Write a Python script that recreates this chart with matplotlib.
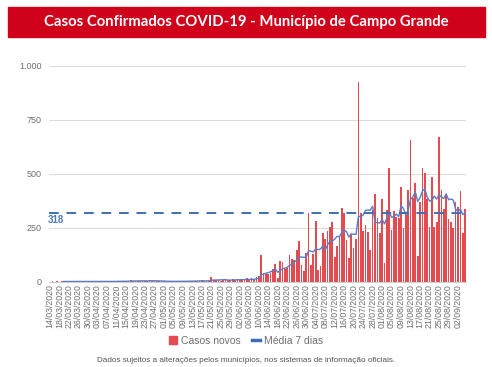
import numpy as np
import pandas as pd
import matplotlib
matplotlib.use('Agg')
import matplotlib.pyplot as plt
from matplotlib.patches import Rectangle
from matplotlib.lines import Line2D

# dados diarios (14/03/2020 ate 05/09/2020)
start_date = '2020-03-14'
cases_mar_may = [0, 2, 0, 1, 0, 3, 1, 0, 2, 1,
                 0, 1, 2, 0, 1, 3, 0, 1, 2, 1,
                 1, 0, 2, 1, 3, 2, 0, 1, 2, 4,
                 2, 3, 1, 2, 8, 3, 2, 4, 3, 5,
                 4, 3, 10, 3, 2, 1, 3, 2, 1, 2,
                 1, 2, 0, 3, 1, 2, 2, 3, 4, 2,
                 3, 5, 2, 4, 6, 3, 5, 4, 23, 8,
                 6, 9, 5, 7, 10, 6, 8, 12, 9, 11]
cases_jun_jul = [8, 12, 6, 15, 10, 18, 12, 20, 25,
                 124, 40, 35, 38, 40, 57, 80, 15, 97, 91,
                 60, 65, 124, 103, 100, 147, 188, 77, 51, 131,
                 317, 77, 128, 281, 54, 73, 224, 198, 235, 255,
                 278, 116, 167, 209, 340, 317, 193, 108, 219, 158,
                 198, 924, 317, 235, 263, 232, 147, 332, 406, 297]
cases_aug_sep = [227, 383, 85, 332, 525, 240, 329, 301, 297, 437,
                 247, 309, 425, 657, 386, 459, 121, 371, 525, 502,
                 382, 255, 484, 255, 278, 669, 425, 335, 406, 292,
                 278, 247, 369, 348, 420, 227, 337]

cases = np.array(cases_mar_may + cases_jun_jul + cases_aug_sep)
dates = pd.date_range(start_date, periods=len(cases), freq='D')
labels = [d.strftime('%d/%m/%Y') for d in dates]
media7 = pd.Series(cases).rolling(7).mean()
ref = media7.iloc[-1]

gray = '#6f6f6f'
fig = plt.figure(figsize=(4.92, 3.67), dpi=100)

# faixa do titulo
fig.patches.append(Rectangle((8 / 492, 1 - 37 / 367), 477 / 492, 30 / 367,
                             transform=fig.transFigure, color='#d0021b', zorder=0))
fig.text(0.5, 1 - 22 / 367, 'Casos Confirmados COVID-19 - Município de Campo Grande',
         ha='center', va='center', color='white', fontsize=10.7,
         fontweight='bold', family='Lato')

ax = fig.add_axes([0.0992, 0.2324, 0.8486, 0.5878])
x = np.arange(len(cases))
ax.bar(x, cases, width=0.72, color='#e44b50', zorder=2)
ax.plot(x, media7, color='#5a7cc4', lw=1.0, zorder=3)
ax.axhline(ref, color='#3e6fb3', lw=1.4, ls=(0, (5, 4)), zorder=4)
ax.text(-1, ref - 8, f'{ref:.0f}', color='#4a7ab5', fontsize=7,
        fontweight='bold', va='top', ha='left', family='Liberation Sans')

ax.set_xlim(-0.5, len(cases) - 0.5)
ax.set_ylim(0, 1000)
ax.set_yticks([0, 250, 500, 750, 1000])
ax.set_yticklabels(['0', '250', '500', '750', '1.000'])
ax.set_xticks(x[::4])
ax.set_xticklabels(labels[::4], rotation=90)
ax.tick_params(axis='y', length=0, pad=5, labelsize=6.5, labelcolor=gray)
ax.tick_params(axis='x', length=0, pad=2, labelsize=6.3, labelcolor=gray)
for lab in ax.get_xticklabels() + ax.get_yticklabels():
    lab.set_family('Liberation Sans')
ax.grid(axis='y', color='#dcdcdc', lw=0.8, zorder=0)
for s in ['top', 'right', 'left']:
    ax.spines[s].set_visible(False)
ax.spines['bottom'].set_color('#cfcfcf')

handles = [Rectangle((0, 0), 1, 1, color='#e44b50'),
           Line2D([], [], color='#3e6fb3', lw=2.5)]
fig.legend(handles, ['Casos novos', 'Média 7 dias'], loc='center',
           bbox_to_anchor=(0.5, 1 - 341 / 367), ncol=2, frameon=False,
           prop={'family': 'Liberation Sans', 'size': 7.5}, labelcolor=gray,
           handlelength=0.8, handleheight=0.8, columnspacing=1.0, handletextpad=0.4)

fig.text(0.5, 1 - 360 / 367,
         'Dados sujeitos a alterações pelos municípios, nos sistemas de informação oficiais.',
         ha='center', va='center', fontsize=5.9, color='#555555', family='Liberation Sans')

fig.savefig('out.png', dpi=100)
